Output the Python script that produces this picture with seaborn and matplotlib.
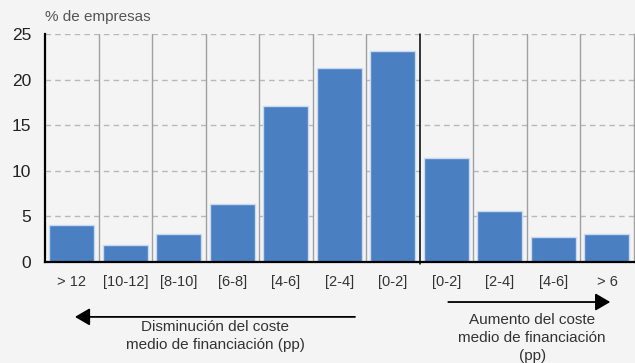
import matplotlib
matplotlib.use("Agg")
import matplotlib.pyplot as plt
import seaborn as sns
import pandas as pd

categories = ["> 12", "[10-12]", "[8-10]", "[6-8]", "[4-6]", "[2-4]", "[0-2]",
              "[0-2]", "[2-4]", "[4-6]", "> 6"]
values = [4.1, 1.9, 3.1, 6.4, 17.1, 21.3, 23.2, 11.4, 5.6, 2.8, 3.1]
y_ticks = [0, 5, 10, 15, 20, 25]
y_label = "% de empresas"
left_text = "Disminución del coste\nmedio de financiación (pp)"
right_text = "Aumento del coste\nmedio de financiación\n(pp)"

sns.set_style("white")
plt.rcParams['font.family'] = ['Liberation Sans', 'DejaVu Sans']

bg = '#f4f4f4'
df = pd.DataFrame({"pos": list(range(len(categories))), "value": values})

fig = plt.figure(figsize=(6.35, 3.63), dpi=100, facecolor=bg)
ax = fig.add_axes([0.0709, 0.278, 0.9271, 0.628])
ax.set_facecolor(bg)

sns.barplot(data=df, x="pos", y="value", color='#4a7fc1', width=0.84,
            edgecolor='#c9daf0', linewidth=1, saturation=1, ax=ax, zorder=3)

ax.set_xlim(-0.5, len(categories) - 0.5)
ax.set_ylim(0, 25)
ax.set_yticks(y_ticks)
ax.set_xticks(range(len(categories)))
ax.set_xticklabels(categories)
ax.set_xlabel("")
ax.set_ylabel("")
ax.yaxis.grid(True, linestyle=(0, (4, 3)), color='#b8b8b8', lw=1)
ax.set_axisbelow(True)

for i in range(len(categories) - 1):
    if i == 6:
        ax.axvline(i + 0.5, ymin=-0.01, ymax=1, color='black', lw=1.1, zorder=2, clip_on=False)
    else:
        ax.axvline(i + 0.5, color='#a0a0a0', lw=1, zorder=2)

for s in ['left', 'bottom']:
    ax.spines[s].set_color('black')
    ax.spines[s].set_linewidth(1.6)
    ax.spines[s].set_zorder(4)
ax.spines['top'].set_visible(False)
ax.spines['right'].set_color('#a0a0a0')
ax.spines['right'].set_linewidth(1)

ax.tick_params(axis='y', length=0, pad=10, labelsize=12.5, labelcolor='#222222')
ax.tick_params(axis='x', length=0, pad=9, labelsize=10.5, labelcolor='#333333')

fig.text(0.071, 0.953, y_label, fontsize=11, color='#555555', ha='left', va='center')

ax.annotate("", xy=(0.118, 0.127), xytext=(0.559, 0.127),
            xycoords='figure fraction', textcoords='figure fraction',
            arrowprops=dict(arrowstyle='-|>,head_length=0.6,head_width=0.35',
                            mutation_scale=15, color='black', lw=1.3, shrinkA=0, shrinkB=0),
            annotation_clip=False)
ax.annotate("", xy=(0.961, 0.168), xytext=(0.706, 0.168),
            xycoords='figure fraction', textcoords='figure fraction',
            arrowprops=dict(arrowstyle='-|>,head_length=0.6,head_width=0.35',
                            mutation_scale=15, color='black', lw=1.3, shrinkA=0, shrinkB=0),
            annotation_clip=False)

fig.text(0.339, 0.074, left_text, fontsize=11, color='#333333', ha='center', va='center',
         linespacing=1.3)
fig.text(0.838, 0.069, right_text, fontsize=11, color='#333333', ha='center', va='center',
         linespacing=1.38)

fig.savefig("out.png", dpi=100, facecolor=bg)
